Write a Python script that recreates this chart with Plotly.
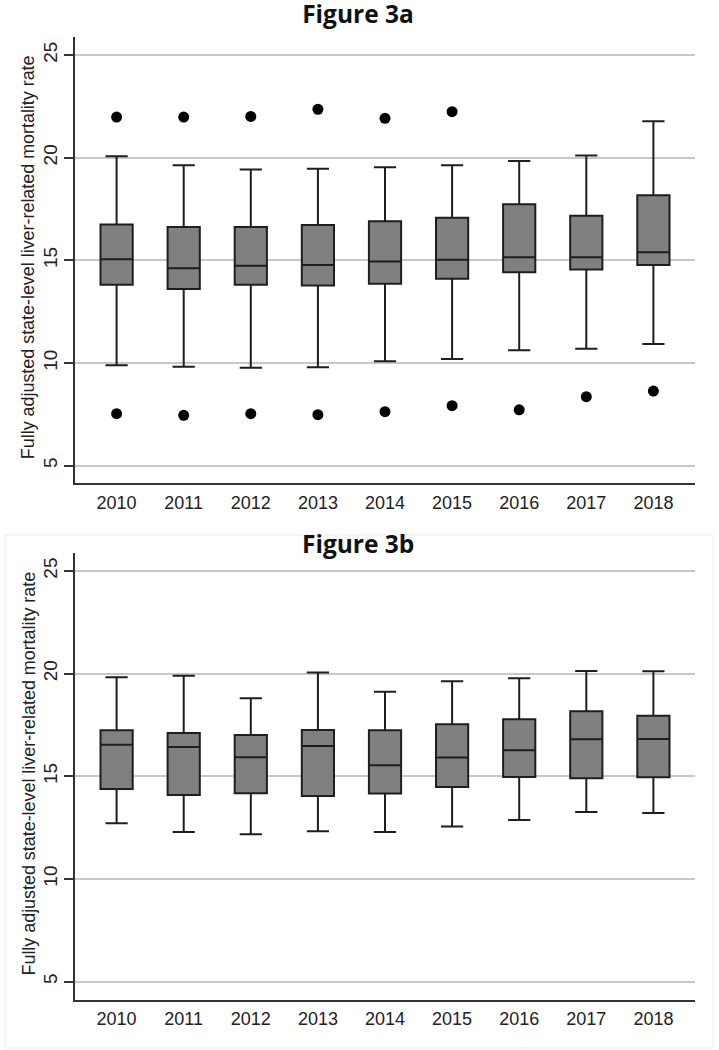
import plotly.graph_objects as go

years = ["2010", "2011", "2012", "2013", "2014", "2015", "2016", "2017", "2018"]

# Figure 3a
a_low = [9.89, 9.82, 9.77, 9.79, 10.08, 10.19, 10.62, 10.70, 10.92]
a_q1 = [13.81, 13.60, 13.81, 13.78, 13.86, 14.10, 14.42, 14.56, 14.77]
a_med = [15.05, 14.61, 14.74, 14.77, 14.95, 15.03, 15.15, 15.15, 15.39]
a_q3 = [16.75, 16.62, 16.62, 16.72, 16.91, 17.08, 17.73, 17.17, 18.17]
a_high = [20.07, 19.63, 19.43, 19.46, 19.53, 19.63, 19.84, 20.11, 21.77]
a_out_years = ["2010", "2011", "2012", "2013", "2014", "2015",
               "2010", "2011", "2012", "2013", "2014", "2015", "2016", "2017", "2018"]
a_out_vals = [21.98, 21.98, 22.01, 22.36, 21.92, 22.24,
              7.53, 7.45, 7.53, 7.48, 7.63, 7.92, 7.72, 8.36, 8.63]

# Figure 3b
b_low = [12.71, 12.29, 12.18, 12.32, 12.29, 12.55, 12.87, 13.26, 13.21]
b_q1 = [14.38, 14.09, 14.17, 14.04, 14.16, 14.48, 14.97, 14.90, 14.95]
b_med = [16.54, 16.43, 15.93, 16.48, 15.54, 15.91, 16.27, 16.80, 16.82]
b_q3 = [17.24, 17.11, 17.01, 17.26, 17.24, 17.53, 17.78, 18.17, 17.95]
b_high = [19.82, 19.90, 18.80, 20.05, 19.12, 19.63, 19.77, 20.13, 20.12]

titles = ["Figure 3a", "Figure 3b"]
ytitle = "Fully adjusted state-level liver-related mortality rate"
yticks = [5, 10, 15, 20, 25]

W, H = 719, 1050
BOX_FILL = "#808080"
EDGE = "#1e1e1e"
XTICK_FONT = dict(family="Liberation Sans, Arial, sans-serif", size=18, color="#222222")
YTICK_FONT = dict(family="Liberation Sans, Arial, sans-serif", size=19, color="#222222")
TITLE_FONT = dict(family="Open Sans, sans-serif", size=24.5, color="#111111")

fig = go.Figure()

def px2x(p):
    return p / W

def px2y(p):
    return 1 - p / H

# panel pixel geometry: (top, bottom)
panels = [(37, 483.3), (553.3, 999.7)]
x_left, x_right = 75, 695

fig.add_trace(go.Box(
    x=years, q1=a_q1, median=a_med, q3=a_q3, lowerfence=a_low, upperfence=a_high,
    fillcolor=BOX_FILL, line=dict(color=EDGE, width=2), width=0.48, whiskerwidth=0.69,
    boxpoints=False, showlegend=False, hoverinfo="skip", xaxis="x", yaxis="y"))
fig.add_trace(go.Scatter(
    x=a_out_years, y=a_out_vals, mode="markers",
    marker=dict(color="black", size=11), showlegend=False, hoverinfo="skip",
    xaxis="x", yaxis="y"))
fig.add_trace(go.Box(
    x=years, q1=b_q1, median=b_med, q3=b_q3, lowerfence=b_low, upperfence=b_high,
    fillcolor=BOX_FILL, line=dict(color=EDGE, width=2), width=0.48, whiskerwidth=0.69,
    boxpoints=False, showlegend=False, hoverinfo="skip", xaxis="x2", yaxis="y2"))

yranges = [[4.14, 25.88], [4.12, 25.86]]
for i, (top, bot) in enumerate(panels):
    sfx = "" if i == 0 else str(i + 1)
    fig.update_layout(**{
        "xaxis" + sfx: dict(
            domain=[px2x(x_left), px2x(x_right)], anchor="y" + sfx,
            type="category", categoryorder="array", categoryarray=years,
            range=[-0.62, 8.62], showgrid=False, zeroline=False,
            showline=True, linecolor="#333333", linewidth=1.5,
            ticks="", tickfont=XTICK_FONT, ticklabelstandoff=2),
        "yaxis" + sfx: dict(
            domain=[px2y(bot), px2y(top)], anchor="x" + sfx,
            range=yranges[i], tickvals=yticks, ticktext=[str(v) for v in yticks],
            tickangle=-90, showgrid=True, gridcolor="#c8c8c8", gridwidth=1.5,
            zeroline=False, showline=True, linecolor="#333333", linewidth=1.5,
            ticks="outside", ticklen=9, tickcolor="#333333", tickwidth=1.5,
            tickfont=YTICK_FONT, ticklabelstandoff=0),
    })
    fig.add_annotation(
        text=ytitle, xref="paper", yref="paper",
        x=px2x(28), y=px2y((top + bot) / 2 - 3), textangle=-90, showarrow=False,
        font=dict(family="Liberation Sans, Arial, sans-serif", size=17.9, color="#222222"),
        xanchor="center", yanchor="middle")

# Panel a title as the layout title, panel b title as an annotation
fig.update_layout(title=dict(
    text="<b>%s</b>" % titles[0], x=px2x(358), xanchor="center",
    xref="paper", yref="container", y=px2y(14), yanchor="middle",
    font=TITLE_FONT))
fig.add_annotation(
    text="<b>%s</b>" % titles[1], xref="paper", yref="paper",
    x=px2x(358), y=px2y(561), showarrow=False, borderpad=0,
    font=TITLE_FONT, xanchor="center", yanchor="bottom")

fig.add_shape(type="rect", xref="paper", yref="paper",
              x0=px2x(5), x1=px2x(713), y0=px2y(1048), y1=px2y(535),
              line=dict(color="#ececec", width=1), layer="below")

fig.update_layout(
    width=W, height=H, margin=dict(l=0, r=0, t=0, b=0),
    paper_bgcolor="white", plot_bgcolor="white", showlegend=False)

fig.write_html("out.html", config={"displayModeBar": False},
               post_script="document.body.style.margin='0';")
